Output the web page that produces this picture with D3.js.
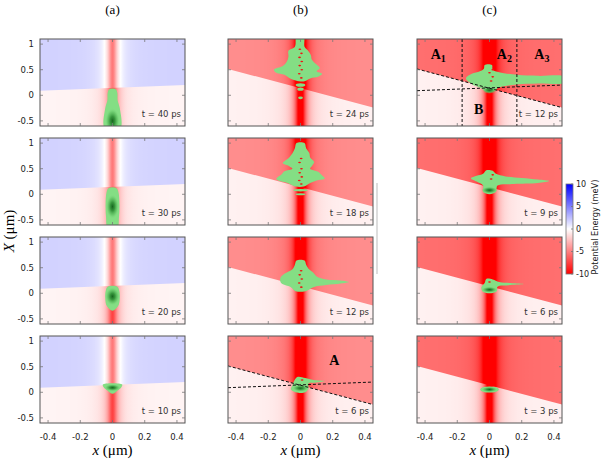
<!DOCTYPE html>
<html>
<head>
<meta charset="utf-8">
<script src="https://cdn.jsdelivr.net/npm/d3@7"></script>
<style>body { margin: 0; background: #fff; }</style>
</head>
<body>
<div id="chart"></div>
<script>
// values
const columnLabels = ['(a)', '(b)', '(c)'];
const timeLabels = [[40, 30, 20, 10], [24, 18, 12, 6], [12, 9, 6, 3]];
const upperEnergy = [1.8, -4.4, -5.6];
const lowerEnergy = [-0.4, -0.5, -0.5];
const wellDepth = [7, 12, 12];
const wellWidth = 0.03;
const boundaryFlat = [[-0.45, 0.09], [0.45, 0.2]];
const boundaryTilted = [[-0.45, 0.515], [0.45, -0.24]];
const dividers = [-0.17, 0.17];
const xTicks = [-0.4, -0.2, 0, 0.2, 0.4];
const yTicks = [-0.5, 0, 0.5, 1];
const colorTicks = [-10, -5, 0, 5, 10];
const regionLabels = [
  { col: 2, row: 0, x: -0.365, y: 0.7, text: 'A', sub: '1' },
  { col: 2, row: 0, x: 0.045, y: 0.7, text: 'A', sub: '2' },
  { col: 2, row: 0, x: 0.278, y: 0.7, text: 'A', sub: '3' },
  { col: 2, row: 0, x: -0.096, y: -0.37, text: 'B', sub: '' },
  { col: 1, row: 3, x: 0.179, y: 0.543, text: 'A', sub: '' }
];

// wave packet contours (data units), one entry per row
const blobsA = [
  { outline: [[-0.02, 0.12], [0.02, 0.12], [0.03, 0.05], [0.032, -0.1], [0.045, -0.25], [0.048, -0.65], [-0.048, -0.65], [-0.045, -0.25], [-0.032, -0.1], [-0.03, 0.05]],
    cores: [[0, -0.5, 0.045, 0.25]], dots: [], gaps: [] },
  { outline: [[-0.025, 0.12], [0.025, 0.12], [0.037, 0.04], [0.043, -0.2], [0.04, -0.45], [0.03, -0.65], [-0.03, -0.65], [-0.04, -0.45], [-0.043, -0.2], [-0.037, 0.04]],
    cores: [[0, -0.24, 0.04, 0.24]], dots: [], gaps: [] },
  { outline: [[-0.03, 0.13], [0.03, 0.13], [0.042, 0.05], [0.045, -0.1], [0.035, -0.25], [0, -0.34], [-0.035, -0.25], [-0.045, -0.1], [-0.042, 0.05]],
    cores: [[0, -0.06, 0.045, 0.18]], dots: [], gaps: [] },
  { outline: [[-0.06, 0.15], [0.06, 0.15], [0.055, 0.1], [0.03, 0.03], [0, -0.03], [-0.03, 0.03], [-0.055, 0.1]],
    cores: [[0, 0.09, 0.05, 0.07]], dots: [], gaps: [] }
];
const blobsB = [
  { outline: [[-0.025, 1.15], [0.02, 1.15], [0.025, 0.95], [0.045, 0.88], [0.065, 0.78], [0.07, 0.7], [0.1, 0.6], [0.12, 0.53], [0.1, 0.47], [0.135, 0.42], [0.11, 0.36], [0.06, 0.33], [0.02, 0.27], [-0.03, 0.29], [-0.07, 0.34], [-0.1, 0.4], [-0.15, 0.44], [-0.165, 0.5], [-0.11, 0.57], [-0.085, 0.66], [-0.075, 0.76], [-0.075, 0.87], [-0.035, 0.95]],
    cores: [], dots: [[0, 0.2, 0.03, 0.035], [0, 0.12, 0.02, 0.03], [0, -0.05, 0.015, 0.025]],
    gaps: [[0.005, 0.34], [-0.008, 0.42], [0.008, 0.5], [-0.005, 0.58], [0.008, 0.66], [-0.006, 0.74], [0.006, 0.82], [-0.004, 0.9]] },
  { outline: [[-0.025, 1.0], [0.025, 1.0], [0.035, 0.9], [0.055, 0.8], [0.06, 0.72], [0.085, 0.63], [0.07, 0.55], [0.06, 0.5], [0.11, 0.44], [0.13, 0.38], [0.15, 0.31], [0.1, 0.27], [0.06, 0.22], [0.02, 0.15], [-0.03, 0.15], [-0.08, 0.22], [-0.15, 0.3], [-0.12, 0.38], [-0.1, 0.45], [-0.05, 0.5], [-0.07, 0.55], [-0.11, 0.61], [-0.07, 0.72], [-0.05, 0.8], [-0.035, 0.9]],
    cores: [], dots: [[0, 0.08, 0.045, 0.025], [0, 0.0, 0.03, 0.02]],
    gaps: [[0.005, 0.2], [-0.008, 0.27], [0.008, 0.34], [-0.005, 0.42], [0.006, 0.5], [-0.006, 0.62], [0.004, 0.7]] },
  { outline: [[-0.025, 0.64], [0.025, 0.64], [0.035, 0.56], [0.05, 0.48], [0.08, 0.4], [0.1, 0.33], [0.16, 0.27], [0.25, 0.25], [0.3, 0.22], [0.25, 0.19], [0.16, 0.16], [0.08, 0.12], [0.03, 0.04], [-0.03, 0.04], [-0.06, 0.12], [-0.12, 0.2], [-0.125, 0.3], [-0.1, 0.38], [-0.05, 0.47], [-0.035, 0.56]],
    cores: [], dots: [],
    gaps: [[0.005, 0.12], [-0.008, 0.2], [0.008, 0.28], [-0.005, 0.36], [0.004, 0.44]] },
  { outline: [[-0.02, 0.3], [0.03, 0.28], [0.08, 0.24], [0.15, 0.22], [0.1, 0.19], [0.05, 0.17], [0.05, 0.08], [0.03, 0.0], [-0.03, 0.0], [-0.06, 0.06], [-0.05, 0.14], [-0.04, 0.22]],
    cores: [[0, 0.08, 0.05, 0.07]], dots: [], gaps: [[0.01, 0.24]] }
];
const blobsC = [
  { outline: [[-0.03, 0.59], [0.015, 0.59], [0.02, 0.5], [0.06, 0.45], [0.17, 0.4], [0.3, 0.38], [0.47, 0.36], [0.47, 0.25], [0.3, 0.23], [0.17, 0.21], [0.06, 0.15], [0.02, 0.07], [-0.02, 0.07], [-0.06, 0.15], [-0.1, 0.2], [-0.146, 0.33], [-0.11, 0.42], [-0.06, 0.47], [-0.035, 0.52]],
    cores: [[0, 0.1, 0.045, 0.07]], dots: [],
    gaps: [[0.01, 0.28], [0.02, 0.36], [0.0, 0.44], [0.02, 0.5]] },
  { outline: [[-0.02, 0.47], [0.02, 0.46], [0.04, 0.4], [0.1, 0.35], [0.2, 0.32], [0.3, 0.29], [0.37, 0.26], [0.3, 0.22], [0.15, 0.2], [0.05, 0.17], [0.04, 0.05], [0.0, 0.0], [-0.04, 0.05], [-0.04, 0.17], [-0.08, 0.25], [-0.115, 0.31], [-0.08, 0.36], [-0.04, 0.4]],
    cores: [[0, 0.08, 0.05, 0.07]], dots: [], gaps: [[0.01, 0.3], [0.02, 0.38]] },
  { outline: [[-0.02, 0.28], [0.02, 0.27], [0.06, 0.22], [0.13, 0.2], [0.215, 0.18], [0.13, 0.16], [0.05, 0.13], [0.045, 0.04], [0.0, 0.0], [-0.045, 0.04], [-0.05, 0.12], [-0.03, 0.2]],
    cores: [[0, 0.07, 0.05, 0.06]], dots: [], gaps: [[0.0, 0.22]] },
  { outline: [],
    cores: [[0, 0.055, 0.05, 0.055]], dots: [[0, 0.055, 0.058, 0.06]], gaps: [] }
];
const blobs = [blobsA, blobsB, blobsC];

const width = 602, height = 463;
const colLeft = [40, 228, 417], rowTop = [39, 138, 237, 336];
const pw = 145, ph = 87;
const xDomain = [-0.45, 0.45], yDomain = [-0.6, 1.1];
const green = '#84de84';

const svg = d3.select('#chart').append('svg')
  .attr('width', width)
  .attr('height', height)
  .style('font-family', 'DejaVu Sans, sans-serif');
const defs = svg.append('defs');

const color = d3.scaleLinear()
  .domain([-10, 0, 10])
  .range(['#ff0000', '#ffffff', '#0000ff'])
  .clamp(true);

// horizontal gradients: region energy plus the well along x = 0
const xs = d3.range(181).map(i => xDomain[0] + i * (xDomain[1] - xDomain[0]) / 180);
columnLabels.forEach((_, c) => {
  [['up', upperEnergy[c]], ['lo', lowerEnergy[c]]].forEach(([k, v]) => {
    const g = defs.append('linearGradient').attr('id', `g${c}${k}`)
      .attr('x1', 0).attr('x2', 1).attr('y1', 0).attr('y2', 0);
    xs.forEach(x => g.append('stop')
      .attr('offset', (x - xDomain[0]) / (xDomain[1] - xDomain[0]))
      .attr('stop-color', color(v - wellDepth[c] / (1 + (x / wellWidth) ** 2))));
  });
});

const rg = defs.append('radialGradient').attr('id', 'core');
rg.append('stop').attr('offset', 0).attr('stop-color', '#17661f');
rg.append('stop').attr('offset', 0.35).attr('stop-color', '#2f8f36').attr('stop-opacity', 0.9);
rg.append('stop').attr('offset', 0.7).attr('stop-color', '#5cbd5f').attr('stop-opacity', 0.6);
rg.append('stop').attr('offset', 1).attr('stop-color', green).attr('stop-opacity', 0);

const smooth = d3.line().curve(d3.curveCatmullRomClosed.alpha(0.5));

columnLabels.forEach((label, c) => {
  const x = d3.scaleLinear().domain(xDomain).range([colLeft[c], colLeft[c] + pw]);
  const bnd = c === 0 ? boundaryFlat : boundaryTilted;

  svg.append('text')
    .attr('x', colLeft[c] + pw / 2)
    .attr('y', 14)
    .attr('text-anchor', 'middle')
    .style('font-family', 'Liberation Serif, serif')
    .style('font-size', '13px')
    .text(label);

  rowTop.forEach((top, r) => {
    const y = d3.scaleLinear().domain(yDomain).range([top + ph, top]);
    const line = d3.line().x(d => x(d[0])).y(d => y(d[1]));
    const id = `clip${c}${r}`;
    defs.append('clipPath').attr('id', id).append('rect')
      .attr('x', colLeft[c]).attr('y', top).attr('width', pw).attr('height', ph);
    const g = svg.append('g').attr('clip-path', `url(#${id})`);

    g.append('rect')
      .attr('x', colLeft[c]).attr('y', top).attr('width', pw).attr('height', ph)
      .attr('fill', `url(#g${c}lo)`);
    g.append('path')
      .attr('d', line([[xDomain[0], yDomain[1]], [xDomain[1], yDomain[1]], bnd[1], bnd[0]]) + 'Z')
      .attr('fill', `url(#g${c}up)`);

    const b = blobs[c][r];
    const sx = d => x(d[0]), sy = d => y(d[1]);
    if (b.outline.length) {
      g.append('path')
        .attr('d', smooth.x(sx).y(sy)(b.outline))
        .attr('fill', green);
    }
    b.dots.forEach(d => g.append('ellipse')
      .attr('cx', x(d[0])).attr('cy', y(d[1]))
      .attr('rx', x(d[2]) - x(0)).attr('ry', y(0) - y(d[3]))
      .attr('fill', green));
    b.cores.forEach(d => g.append('ellipse')
      .attr('cx', x(d[0])).attr('cy', y(d[1]))
      .attr('rx', x(d[2]) - x(0)).attr('ry', y(0) - y(d[3]))
      .attr('fill', 'url(#core)'));
    b.gaps.forEach(d => g.append('ellipse')
      .attr('cx', x(d[0])).attr('cy', y(d[1]))
      .attr('rx', 1.4).attr('ry', 0.8)
      .attr('fill', '#f01414'));

    // dashed guides
    if ((c === 1 && r === 3) || (c === 2 && r === 0)) {
      [boundaryFlat, boundaryTilted].forEach(l => g.append('path')
        .attr('d', line(l))
        .attr('fill', 'none').attr('stroke', '#111')
        .attr('stroke-width', 1).attr('stroke-dasharray', '3,2'));
    }
    if (c === 2 && r === 0) {
      dividers.forEach(v => g.append('line')
        .attr('x1', x(v)).attr('x2', x(v))
        .attr('y1', top).attr('y2', top + ph)
        .attr('stroke', '#111').attr('stroke-dasharray', '3,2'));
    }

    regionLabels.filter(d => d.col === c && d.row === r).forEach(d => {
      const t = svg.append('text')
        .attr('x', x(d.x)).attr('y', y(d.y))
        .style('font-family', 'Liberation Serif, serif')
        .style('font-weight', 'bold')
        .style('font-size', '14px')
        .text(d.text);
      if (d.sub) t.append('tspan').attr('dy', 3).style('font-size', '10px').text(d.sub);
    });

    svg.append('text')
      .attr('x', colLeft[c] + pw - 4)
      .attr('y', top + 78)
      .attr('text-anchor', 'end')
      .style('font-size', '8.5px')
      .attr('fill', '#333')
      .text(`t = ${timeLabels[c][r]} ps`);

    // frame and inner ticks
    svg.append('rect')
      .attr('x', colLeft[c]).attr('y', top).attr('width', pw).attr('height', ph)
      .attr('fill', 'none').attr('stroke', '#555').attr('stroke-width', 1);
    const tk = svg.append('g').attr('stroke', '#777').attr('stroke-width', 0.8);
    xTicks.forEach(v => {
      tk.append('line').attr('x1', x(v)).attr('x2', x(v)).attr('y1', top + ph).attr('y2', top + ph - 3);
      tk.append('line').attr('x1', x(v)).attr('x2', x(v)).attr('y1', top).attr('y2', top + 3);
    });
    yTicks.forEach(v => {
      tk.append('line').attr('x1', colLeft[c]).attr('x2', colLeft[c] + 3).attr('y1', y(v)).attr('y2', y(v));
      tk.append('line').attr('x1', colLeft[c] + pw).attr('x2', colLeft[c] + pw - 3).attr('y1', y(v)).attr('y2', y(v));
    });

    if (c === 0) {
      yTicks.forEach(v => svg.append('text')
        .attr('x', 34).attr('y', y(v)).attr('dy', '0.35em')
        .attr('text-anchor', 'end')
        .style('font-size', '8.5px').attr('fill', '#222')
        .text(v));
    }
    if (r === 3) {
      xTicks.forEach(v => svg.append('text')
        .attr('x', x(v)).attr('y', top + ph + 17)
        .attr('text-anchor', 'middle')
        .style('font-size', '8.5px').attr('fill', '#222')
        .text(v));
    }
  });

  const xt = svg.append('text')
    .attr('x', colLeft[c] + pw / 2)
    .attr('y', 455)
    .attr('text-anchor', 'middle')
    .style('font-family', 'Liberation Serif, serif')
    .style('font-size', '15px');
  xt.append('tspan').style('font-style', 'italic').text('x');
  xt.append('tspan').text(' (μm)');
});

const yt = svg.append('text')
  .attr('transform', 'translate(14,231) rotate(-90)')
  .attr('text-anchor', 'middle')
  .style('font-family', 'Liberation Serif, serif')
  .style('font-size', '15px');
yt.append('tspan').style('font-style', 'italic').text('X');
yt.append('tspan').text(' (μm)');

// stray separator line next to the colour bar
svg.append('line')
  .attr('x1', 377).attr('x2', 377).attr('y1', 183).attr('y2', 274)
  .attr('stroke', '#bbb').attr('stroke-width', 1);

// colour bar
const cb = d3.scaleLinear().domain([-10, 10]).range([274, 184]);
const cg = defs.append('linearGradient').attr('id', 'cbar')
  .attr('x1', 0).attr('x2', 0).attr('y1', 1).attr('y2', 0);
colorTicks.forEach(v => cg.append('stop')
  .attr('offset', (v + 10) / 20)
  .attr('stop-color', color(v)));
svg.append('rect')
  .attr('x', 566).attr('y', cb(10)).attr('width', 7).attr('height', cb(-10) - cb(10))
  .attr('fill', 'url(#cbar)').attr('stroke', '#777').attr('stroke-width', 0.8);
colorTicks.forEach(v => {
  svg.append('line').attr('x1', 573).attr('x2', 571).attr('y1', cb(v)).attr('y2', cb(v))
    .attr('stroke', '#777').attr('stroke-width', 0.8);
  svg.append('text')
    .attr('x', 576).attr('y', cb(v)).attr('dy', '0.35em')
    .style('font-size', '8px').attr('fill', '#222')
    .text(v);
});
svg.append('text')
  .attr('transform', 'translate(598,227) rotate(-90)')
  .attr('text-anchor', 'middle')
  .style('font-size', '8.2px').attr('fill', '#222')
  .text('Potential Energy (meV)');
</script>
</body>
</html>
